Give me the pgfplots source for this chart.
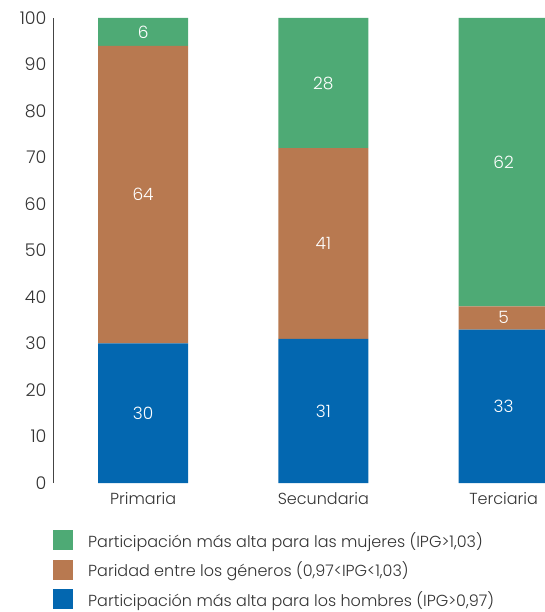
\documentclass[border=0pt]{standalone}
\usepackage{pgfplots}
\pgfplotsset{compat=1.18}
\usepackage{fontspec}
\setmainfont{Poppins Light}
\definecolor{cgreen}{RGB}{78,170,117}
\definecolor{cbrown}{RGB}{184,121,80}
\definecolor{cblue}{RGB}{3,103,176}
\definecolor{caxis}{RGB}{68,68,68}
\begin{document}
\begin{tikzpicture}
\begin{axis}[
  scale only axis,
  width=492pt, height=465pt,
  ybar stacked,
  bar width=90pt,
  xmin=-0.5, xmax=2.23,
  ymin=0, ymax=100,
  enlargelimits=false,
  clip=true,
  xtick={0,1,2},
  xticklabels={Primaria,Secundaria,Terciaria},
  ytick={0,10,...,100},
  major tick length=0pt,
  separate axis lines,
  axis x line*=bottom,
  axis y line*=left,
  x axis line style={draw=none},
  y axis line style={draw=caxis, line width=0.7pt, -},
  /pgf/number format/assume math mode=true,
  yticklabel style={font=\fontsize{17.5}{20}\selectfont, text=black!80, xshift=-3pt},
  xticklabel style={font=\fontsize{16}{19}\selectfont, text=black!80, yshift=-6pt},
  reverse legend,
  legend cell align=left,
  legend style={draw=none, fill=none, at={(axis description cs:0,0)}, anchor=north west,
    yshift=-47pt, inner sep=0pt, row sep=9pt, column sep=13pt,
    font=\fontsize{16}{19}\selectfont, text=black!80,
    nodes={inner sep=2pt}},
  legend image code/.code={\fill[#1] (0pt,-10pt) rectangle (20pt,10pt);},
]
\addplot[fill=cblue, draw=none] coordinates {(0,30) (1,31) (2,33)};
\addlegendentry{Participación más alta para los hombres (IPG>0,97)}
\addplot[fill=cbrown, draw=none] coordinates {(0,64) (1,41) (2,5)};
\addlegendentry{Paridad entre los géneros (0,97<IPG<1,03)}
\addplot[fill=cgreen, draw=none] coordinates {(0,6) (1,28) (2,62)};
\addlegendentry{Participación más alta para las mujeres (IPG>1,03)}
\end{axis}
\begin{axis}[
  scale only axis,
  width=492pt, height=465pt,
  xmin=-0.5, xmax=2.23,
  ymin=0, ymax=100,
  axis lines=none,
  ticks=none,
  clip=false,
]
\addplot[draw=none, mark=none, nodes near coords, point meta=explicit symbolic,
  every node near coord/.style={anchor=center, text=white, font=\fontsize{17}{20}\selectfont}]
  coordinates {
  (0,15)[30] (0,62)[64] (0,97)[6]
  (1,15.5)[31] (1,51.5)[41] (1,86)[28]
  (2,16.5)[33] (2,35.5)[5] (2,69)[62]
  };
\end{axis}
\pgfresetboundingbox
\path[use as bounding box] (-53pt,-129pt) rectangle (492pt,483pt);
\end{tikzpicture}
\end{document}
